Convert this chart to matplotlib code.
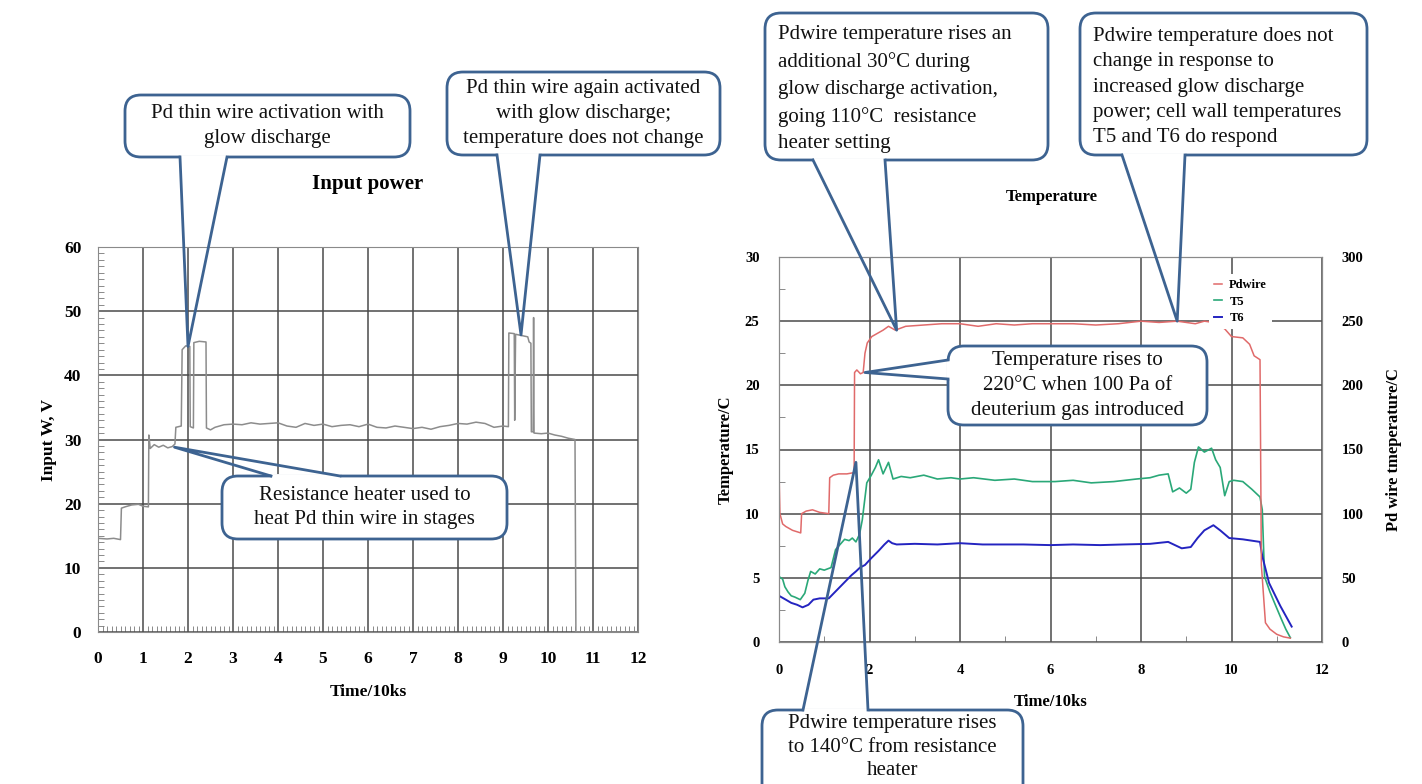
import matplotlib
matplotlib.use("Agg")
import matplotlib.pyplot as plt
from matplotlib.patches import FancyBboxPatch
from matplotlib.ticker import MultipleLocator

plt.rcParams['font.family'] = ['Liberation Serif', 'DejaVu Serif']
plt.rcParams['font.weight'] = 'bold'
plt.rcParams['axes.labelweight'] = 'bold'

# ---- left chart: input power (Time/10ks, W or V)
power_t = [0.00, 0.20, 0.35, 0.50, 0.52, 0.60, 0.75, 0.90, 1.00, 1.12, 1.13, 1.16,
           1.25, 1.35, 1.45, 1.55, 1.65, 1.71, 1.73, 1.85, 1.87, 1.95, 2.04, 2.05,
           2.12, 2.13, 2.25, 2.40, 2.41, 2.50, 2.60, 2.80, 3.00, 3.20, 3.40, 3.60,
           3.80, 4.00, 4.20, 4.40, 4.60, 4.80, 5.00, 5.20, 5.40, 5.60, 5.80, 6.00,
           6.20, 6.40, 6.60, 6.80, 7.00, 7.20, 7.40, 7.60, 7.80, 8.00, 8.20, 8.40,
           8.60, 8.80, 9.00, 9.12, 9.13, 9.25, 9.26, 9.28, 9.55, 9.58, 9.62, 9.63,
           9.67, 9.68, 9.69, 9.85, 10.00, 10.15, 10.30, 10.45, 10.60, 10.62, 12.00]
power_v = [14.6, 14.5, 14.6, 14.4, 19.3, 19.5, 19.8, 19.9, 19.6, 19.5, 30.7, 28.6,
           29.2, 28.8, 29.1, 28.7, 28.9, 29.3, 31.9, 32.1, 44.0, 44.6, 44.5, 32.0,
           31.8, 45.1, 45.3, 45.2, 31.8, 31.5, 31.9, 32.3, 32.4, 32.3, 32.6, 32.4,
           32.5, 32.6, 32.1, 31.9, 32.5, 32.2, 32.4, 32.0, 32.2, 32.3, 32.0, 32.4,
           31.9, 31.8, 32.1, 31.9, 31.7, 31.9, 31.6, 32.0, 32.2, 32.5, 32.4, 32.7,
           32.5, 31.9, 32.1, 32.0, 46.6, 46.5, 33.0, 46.4, 46.0, 45.2, 45.0, 31.2,
           31.2, 49.0, 31.0, 30.9, 31.0, 30.7, 30.5, 30.2, 30.0, 0.0, 0.0]

# ---- right chart: temperatures
pd_t = [0.00, 0.02, 0.08, 0.15, 0.30, 0.48, 0.50, 0.60, 0.74, 0.90, 1.10, 1.12,
        1.20, 1.32, 1.50, 1.66, 1.67, 1.72, 1.80, 1.86, 1.90, 1.95, 2.05, 2.15,
        2.30, 2.42, 2.57, 2.80, 3.20, 3.60, 4.00, 4.40, 4.80, 5.20, 5.60, 6.00,
        6.50, 7.00, 7.50, 8.00, 8.40, 8.80, 9.00, 9.20, 9.40, 9.60, 9.70, 9.85,
        10.00, 10.25, 10.40, 10.50, 10.63, 10.66, 10.75, 10.85, 11.00, 11.15, 11.30]
pd_v = [134, 100, 92, 90, 87, 85, 100, 102, 103, 101, 100, 128,
        130, 131, 131, 132, 210, 212, 209, 210, 225, 233, 238, 240,
        243, 246, 243, 246, 247, 248, 248, 246, 248, 247, 248, 248,
        248, 247, 248, 250, 249, 250, 249, 248, 250, 249, 247, 244,
        238, 237, 232, 223, 220, 60, 15, 10, 6, 4, 3]

t5_t = [0.00, 0.08, 0.13, 0.20, 0.27, 0.35, 0.47, 0.57, 0.64, 0.70, 0.80, 0.90,
        1.00, 1.15, 1.25, 1.35, 1.45, 1.55, 1.62, 1.70, 1.78, 1.84, 1.94, 2.04,
        2.13, 2.20, 2.30, 2.42, 2.52, 2.70, 2.90, 3.20, 3.50, 3.80, 4.00, 4.30,
        4.77, 5.20, 5.60, 6.10, 6.50, 6.90, 7.40, 7.90, 8.20, 8.40, 8.60, 8.70,
        8.85, 9.00, 9.10, 9.18, 9.27, 9.40, 9.56, 9.65, 9.75, 9.85, 9.95, 10.05,
        10.25, 10.45, 10.63, 10.68, 10.73, 10.85, 10.98, 11.10, 11.20, 11.30]
t5_v = [5.1, 4.9, 4.3, 3.9, 3.6, 3.5, 3.3, 3.8, 4.8, 5.5, 5.3, 5.7,
        5.6, 5.8, 7.2, 7.6, 8.0, 7.9, 8.1, 7.8, 8.4, 9.5, 12.4, 13.0,
        13.6, 14.2, 13.1, 14.0, 12.7, 12.9, 12.8, 13.0, 12.7, 12.8, 12.7, 12.8,
        12.6, 12.7, 12.5, 12.5, 12.6, 12.4, 12.5, 12.7, 12.8, 13.0, 13.1, 11.7,
        12.0, 11.6, 11.9, 14.0, 15.2, 14.8, 15.1, 14.2, 13.6, 11.4, 12.5, 12.6,
        12.5, 11.9, 11.3, 10.3, 5.1, 3.9, 2.8, 1.8, 1.0, 0.34]

t6_t = [0.00, 0.15, 0.27, 0.40, 0.52, 0.65, 0.76, 0.90, 1.10, 1.35, 1.60, 1.70,
        1.79, 1.90, 2.03, 2.20, 2.33, 2.42, 2.50, 2.60, 3.00, 3.50, 4.00, 4.50,
        5.00, 5.40, 6.00, 6.50, 7.10, 7.60, 8.20, 8.60, 8.90, 9.10, 9.25, 9.40,
        9.60, 9.75, 9.95, 10.25, 10.63, 10.68, 10.83, 11.08, 11.33]
t6_v = [3.6, 3.3, 3.05, 2.9, 2.7, 2.9, 3.3, 3.4, 3.4, 4.3, 5.2, 5.5,
        5.8, 6.0, 6.5, 7.1, 7.6, 7.9, 7.7, 7.6, 7.65, 7.6, 7.7, 7.6,
        7.6, 7.6, 7.55, 7.6, 7.55, 7.6, 7.65, 7.8, 7.3, 7.4, 8.1, 8.7,
        9.1, 8.7, 8.1, 8.0, 7.8, 6.7, 4.6, 2.8, 1.2]

series_names = ["Pdwire", "T5", "T6"]

W, H = 1422, 784
fig = plt.figure(figsize=(W / 100, H / 100), dpi=100)
fig.patch.set_facecolor('white')

grid_col = '#4a4a4a'
spine_col = '#8a8a8a'
edge = '#3d6391'


def frac(x0, y0, x1, y1):
    # pixel box (top-left origin) -> figure fraction rect
    return [x0 / W, 1 - y1 / H, (x1 - x0) / W, (y1 - y0) / H]


# left chart
ax1 = fig.add_axes(frac(98, 247, 638, 632))
ax1.plot(power_t, power_v, color='#8c8c8c', lw=1.1)
ax1.set_xlim(0, 12)
ax1.set_ylim(0, 60)
ax1.set_xticks(range(0, 13))
ax1.set_yticks(range(0, 61, 10))
ax1.xaxis.set_minor_locator(MultipleLocator(0.1))
ax1.yaxis.set_minor_locator(MultipleLocator(1))
ax1.grid(True, which='major', color=grid_col, lw=1.1)
ax1.tick_params(which='major', length=0, labelsize=12.5, pad=14)
ax1.tick_params(axis='y', which='major', pad=12)
ax1.tick_params(which='minor', direction='in', length=4, color='#777777')
for s in ax1.spines.values():
    s.set_color(spine_col)
ax1.set_xlabel("Time/10ks", fontsize=12.5, labelpad=12)
ax1.set_ylabel("Input W, V", fontsize=12.5, labelpad=5)

# right chart
ax = fig.add_axes(frac(779, 257, 1322, 642))
ax2 = ax.twinx()
l5, = ax.plot(t5_t, t5_v, color='#2aa878', lw=1.2, label=series_names[1])
l6, = ax.plot(t6_t, t6_v, color='#2424c0', lw=1.4, label=series_names[2])
lp, = ax2.plot(pd_t, pd_v, color='#e06a6a', lw=1.1, label=series_names[0])
ax.set_xlim(0, 12)
ax.set_ylim(0, 30)
ax2.set_ylim(0, 300)
ax.set_xticks(range(0, 13, 2))
ax.set_yticks(range(0, 31, 5))
ax2.set_yticks(range(0, 301, 50))
ax.xaxis.set_minor_locator(MultipleLocator(1))
ax.yaxis.set_minor_locator(MultipleLocator(2.5))
ax.grid(True, which='major', color=grid_col, lw=1.1)
ax.tick_params(which='major', length=0, labelsize=10.5, pad=16)
ax.tick_params(axis='y', which='major', pad=14)
ax.tick_params(which='minor', direction='in', length=4, color='#777777')
ax2.tick_params(length=0, labelsize=10.5, pad=14)
for a in (ax, ax2):
    for s in a.spines.values():
        s.set_color(spine_col)
ax.set_xlabel("Time/10ks", fontsize=12, labelpad=12)
ax.set_ylabel("Temperature/C", fontsize=12, labelpad=8)
ax2.set_ylabel("Pd wire tmeperature/C", fontsize=12, labelpad=16)

fig.legend([lp, l5, l6], series_names, loc='upper left',
           bbox_to_anchor=(1203 / W, 1 - 268 / H), fontsize=9,
           handlelength=0.6, handletextpad=0.6, labelspacing=0.35,
           frameon=True, facecolor='white', edgecolor='none', framealpha=1)

fig.text(368 / W, 1 - 184 / H, "Input power", ha='center', va='center', fontsize=15)
fig.text(1052 / W, 1 - 197 / H, "Temperature", ha='center', va='center', fontsize=12)

# callouts drawn in pixel space on an overlay
ov = fig.add_axes([0, 0, 1, 1], zorder=10)
ov.set_xlim(0, W)
ov.set_ylim(H, 0)
ov.axis('off')
ov.patch.set_alpha(0)


def tip_of(a, x, y):
    return ov.transData.inverted().transform(a.transData.transform((x, y)))


def callout(box, text, bases, tip, align='center', size=15, spacing=1.45, ty=None):
    x0, y0, x1, y1 = box
    ov.add_patch(FancyBboxPatch((x0, y0), x1 - x0, y1 - y0,
                                boxstyle='round,pad=0,rounding_size=16',
                                fc='white', ec=edge, lw=2))
    (bx1, by1), (bx2, by2) = bases
    ov.plot([bx1, bx2], [by1, by2], color='white', lw=3.5, solid_capstyle='butt')
    ov.plot([bx1, tip[0], bx2], [by1, tip[1], by2], color=edge, lw=2)
    if ty is None:
        ty = (y0 + y1) / 2
    if align == 'center':
        ov.text((x0 + x1) / 2, ty, text, ha='center', va='center',
                fontsize=size, fontweight='normal', linespacing=spacing, color='#111111')
    else:
        ov.text(x0 + 13, ty, text, ha='left', va='center',
                fontsize=size, fontweight='normal', linespacing=spacing, color='#111111')


callout((125, 95, 410, 157), "Pd thin wire activation with\nglow discharge",
        [(180, 157), (227, 157)], tip_of(ax1, 2.0, 44.5))
callout((447, 72, 720, 155),
        "Pd thin wire again activated\nwith glow discharge;\ntemperature does not change",
        [(497, 155), (540, 155)], tip_of(ax1, 9.4, 46.3))
callout((222, 476, 507, 539), "Resistance heater used to\nheat Pd thin wire in stages",
        [(271, 476), (340, 476)], tip_of(ax1, 1.7, 28.8), spacing=1.35)
callout((765, 13, 1048, 160),
        "Pdwire temperature rises an\nadditional 30\u00b0C during\nglow discharge activation,\ngoing 110\u00b0C  resistance\nheater setting",
        [(813, 160), (885, 160)], tip_of(ax2, 2.6, 243), align='left',
        spacing=1.55, ty=89)
callout((1080, 13, 1367, 155),
        "Pdwire temperature does not\nchange in response to\nincreased glow discharge\npower; cell wall temperatures\nT5 and T6 do respond",
        [(1122, 155), (1185, 155)], tip_of(ax2, 8.8, 250), align='left',
        spacing=1.45, ty=87)
callout((948, 346, 1207, 425),
        "Temperature rises to\n220\u00b0C when 100 Pa of\ndeuterium gas introduced",
        [(948, 360), (948, 379)], tip_of(ax2, 1.9, 210))
callout((762, 710, 1023, 800),
        "Pdwire temperature rises\nto 140\u00b0C from resistance\nheater",
        [(803, 710), (868, 710)], tip_of(ax2, 1.7, 140), spacing=1.3, ty=747)

fig.savefig("out.png", dpi=100)
